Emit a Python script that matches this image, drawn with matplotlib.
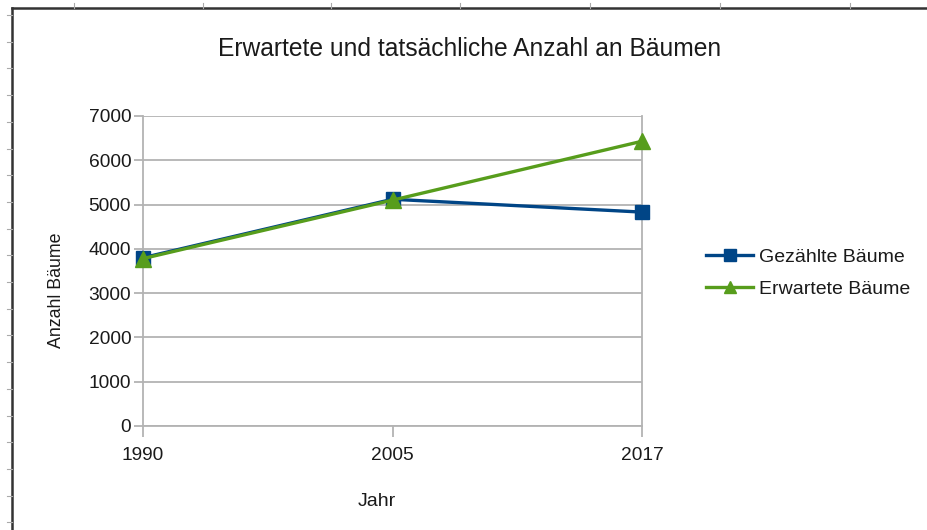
import matplotlib
matplotlib.use("Agg")
import matplotlib.pyplot as plt
from matplotlib.lines import Line2D

plt.rcParams['font.family'] = ['Liberation Sans', 'DejaVu Sans']

years = ["1990", "2005", "2017"]
gezaehlt = [3800, 5120, 4830]
erwartet = [3780, 5100, 6430]
yticks = [0, 1000, 2000, 3000, 4000, 5000, 6000, 7000]

blue = "#004586"
green = "#579d1c"
grid = "#b3b3b3"
txt = "#1a1a1a"

fig = plt.figure(figsize=(9.28, 5.30), dpi=100)
ax = fig.add_axes([143/928, 1-426/530, (642-143)/928, (426-116)/530])

x = list(range(len(years)))
ax.plot(x, gezaehlt, color=blue, lw=2.4, marker='s', ms=10, label="Gezählte Bäume", clip_on=False, zorder=3)
ax.plot(x, erwartet, color=green, lw=2.4, marker='^', ms=11, label="Erwartete Bäume", clip_on=False, zorder=4)

ax.set_xlim(0, len(years)-1)
ax.set_ylim(0, 7000)
ax.set_xticks(x)
ax.set_xticklabels(years)
ax.set_yticks(yticks)
ax.yaxis.grid(True, color=grid, lw=1.3)
ax.set_axisbelow(True)
ax.spines['top'].set_visible(False)
for s in ['left', 'right', 'bottom']:
    ax.spines[s].set_color(grid)
    ax.spines[s].set_linewidth(1.3)
ax.tick_params(axis='both', colors=grid, width=1.3, labelcolor=txt, labelsize=13.8)
ax.tick_params(axis='x', length=8, pad=7)
ax.tick_params(axis='y', length=6.5, pad=2)

fig.text(470/928, 1-49.5/530, "Erwartete und tatsächliche Anzahl an Bäumen", ha='center', va='center', fontsize=17.7, color=txt)
fig.text(57/928, 1-290/530, "Anzahl Bäume", ha='center', va='center', rotation=90, fontsize=12.8, color=txt)
fig.text(377/928, 1-501/530, "Jahr", ha='center', va='center', fontsize=14, color=txt)

leg = fig.legend(handles=[Line2D([], [], color=blue, lw=2.4, marker='s', ms=8),
                          Line2D([], [], color=green, lw=2.4, marker='^', ms=8)],
                 labels=["Gezählte Bäume", "Erwartete Bäume"],
                 loc='center left', bbox_to_anchor=(689/928, 1-273/530), frameon=False,
                 fontsize=14, handlelength=2.4, handletextpad=0.3, labelspacing=0.75,
                 labelcolor=txt)

# screenshot frame
fig.add_artist(Line2D([12/928, 12/928], [0, 1-8/530], transform=fig.transFigure, color="#333333", lw=1.8))
fig.add_artist(Line2D([12/928, 1], [1-8/530, 1-8/530], transform=fig.transFigure, color="#333333", lw=1.8))
for xp in [74, 203, 331, 460, 590, 720, 850]:
    fig.add_artist(Line2D([xp/928, xp/928], [1-8/530, 1-3/530], transform=fig.transFigure, color="#aaaaaa", lw=0.8))
for k in range(20):
    yp = 15 + 26.7*k
    if yp < 530:
        fig.add_artist(Line2D([7/928, 12/928], [1-yp/530, 1-yp/530], transform=fig.transFigure, color="#aaaaaa", lw=0.8))

fig.savefig("out.png", dpi=100)
